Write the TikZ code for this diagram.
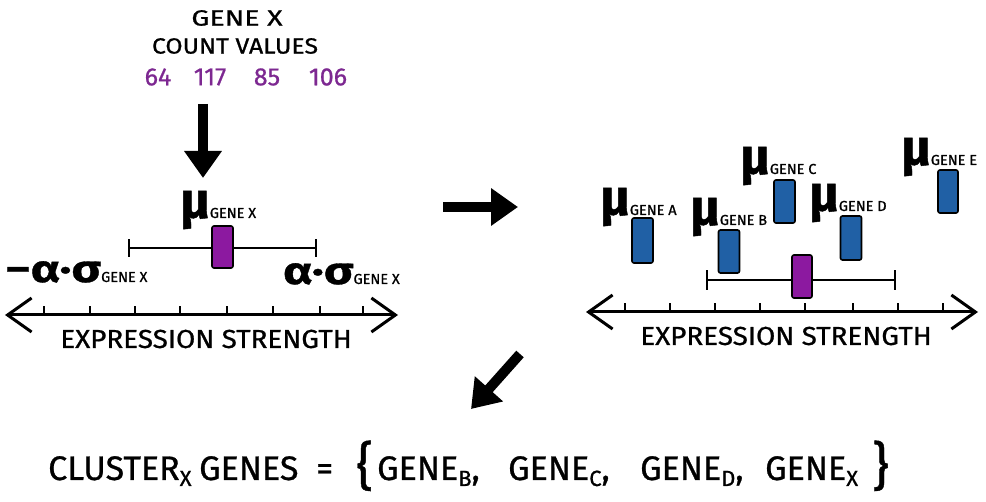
\documentclass[tikz,border=0pt]{standalone}
\usepackage{fontspec}
\setmainfont[FakeBold=0.8]{Fira Sans}
\usetikzlibrary{arrows.meta}
\definecolor{numpurple}{RGB}{125,40,145}
\definecolor{boxpurple}{RGB}{140,25,160}
\definecolor{boxblue}{RGB}{32,96,165}
\newcommand{\mubig}{{\fontsize{51}{51}\selectfont\bfseries μ}}
\newcommand{\gsub}[1]{{\fontsize{14.5}{14.5}\selectfont #1}}
\newcommand{\wide}[2]{\scalebox{#1}[1]{#2}}
\newcommand{\eqsub}[1]{{\fontsize{22}{22}\selectfont\raisebox{-6pt}{#1}}}
\tikzset{
  lbl/.style={inner sep=0pt, font=\fontsize{22}{22}\selectfont},
  numlbl/.style={inner sep=0pt, text=numpurple, font=\fontsize{25}{25}\selectfont},
  axislbl/.style={inner sep=0pt, font=\fontsize{26}{26}\selectfont},
  mulbl/.style={inner sep=0pt, anchor=base west},
  eqtxt/.style={inner sep=0pt, anchor=base west, font=\fontsize{34}{34}\selectfont},
  axisline/.style={line width=3pt, {Straight Barb[length=24pt,width=34pt,line width=3pt]}-{Straight Barb[length=24pt,width=34pt,line width=3pt]}},
  tick/.style={line width=2.2pt},
  whisker/.style={line width=2pt},
  meanbox/.style={draw=black, line width=1.6pt, rounded corners=2pt, inner sep=0pt},
  bigarrow/.style={line width=10pt, -{Triangle[length=27pt,width=36pt]}},
}
\begin{document}
\begin{tikzpicture}[x=1pt,y=-1pt]
\useasboundingbox (0,0) rectangle (986,502);
% ---------- top text
\node[lbl] (genex) at (237,18) {\wide{1.3}{GENE X}};
\node[lbl] (countvals) at (235,46) {\wide{1.13}{COUNT VALUES}};
\node[numlbl] (n64) at (158,77) {64};
\node[numlbl] (n117) at (210,77) {117};
\node[numlbl] (n85) at (267,77) {85};
\node[numlbl] (n106) at (328,77) {106};
\coordinate (dtop) at (203,104);
\coordinate (dtip) at (203,178);
\draw[bigarrow] (dtop) -- (dtip);
% ---------- left panel
\node[mulbl] (mux) at (180,218) {\mubig\gsub{GENE X}};
\coordinate (lw1) at (129,248);
\coordinate (lw2) at (316,248);
\draw[whisker] (lw1) -- (lw2);
\draw[whisker] ([yshift=-9pt]lw1) -- ([yshift=9pt]lw1);
\draw[whisker] ([yshift=-9pt]lw2) -- ([yshift=9pt]lw2);
\node[meanbox, fill=boxpurple, minimum width=21pt, minimum height=42pt] (bx) at (222.5,247) {};
\node[mulbl] (lsig) at (5,282) {\wide{1.3}{\fontsize{38}{38}\selectfont\bfseries −α·σ}\gsub{GENE X}};
\node[mulbl] (rsig) at (283,284) {\wide{1.3}{\fontsize{38}{38}\selectfont\bfseries α·σ}\gsub{GENE X}};
\coordinate (la1) at (5,315);
\coordinate (la2) at (398,315);
\draw[axisline] (la1) -- (la2);
\foreach \t in {44,90,135,180,227,273,320,363}
  \draw[tick] (\t,315) -- (\t,306);
\node[axislbl] (lexpr) at (206,339) {\wide{1.07}{EXPRESSION STRENGTH}};
% ---------- right arrow
\coordinate (ra1) at (443,207);
\coordinate (ra2) at (518,207);
\draw[bigarrow] (ra1) -- (ra2);
% ---------- right panel
\coordinate (rw1) at (707,280);
\coordinate (rw2) at (895,280);
\draw[whisker] (rw1) -- (rw2);
\draw[whisker] ([yshift=-10pt]rw1) -- ([yshift=10pt]rw1);
\draw[whisker] ([yshift=-10pt]rw2) -- ([yshift=10pt]rw2);
\node[meanbox, fill=boxpurple, minimum width=20pt, minimum height=43pt] (bxr) at (802,276.5) {};
\node[meanbox, fill=boxblue, minimum width=21pt, minimum height=45pt] (ba) at (642.5,240.5) {};
\node[meanbox, fill=boxblue, minimum width=21pt, minimum height=43pt] (bb) at (729,251.5) {};
\node[meanbox, fill=boxblue, minimum width=21pt, minimum height=43pt] (bc) at (784.5,201.5) {};
\node[meanbox, fill=boxblue, minimum width=21pt, minimum height=44pt] (bd) at (851,238) {};
\node[meanbox, fill=boxblue, minimum width=20pt, minimum height=43pt] (be) at (948,191.5) {};
\node[mulbl] (mua) at (600,215) {\mubig\gsub{GENE A}};
\node[mulbl] (mub) at (690,225) {\mubig\gsub{GENE B}};
\node[mulbl] (muc) at (740,174) {\mubig\gsub{GENE C}};
\node[mulbl] (mud) at (809,211) {\mubig\gsub{GENE D}};
\node[mulbl] (mue) at (901,165) {\mubig\gsub{GENE E}};
\coordinate (rx1) at (586,312);
\coordinate (rx2) at (978,312);
\draw[axisline] (rx1) -- (rx2);
\foreach \t in {625,670,715,760,805,853,898,943}
  \draw[tick] (\t,312) -- (\t,303);
\node[axislbl] (rexpr) at (786,336) {\wide{1.07}{EXPRESSION STRENGTH}};
% ---------- diagonal arrow
\coordinate (da1) at (520,354);
\coordinate (da2) at (471,409);
\draw[bigarrow] (da1) -- (da2);
% ---------- bottom equation
\node[eqtxt] (eqa) at (48,480) {CLUSTER\eqsub{X}};
\node[eqtxt] (eqb) at (199,480) {GENES};
\node[eqtxt] (eqc) at (316,480) {=};
\node[eqtxt, font=\fontsize{52}{52}\selectfont] (eqd) at (356,484) {\{};
\node[eqtxt] (eqe) at (377,480) {GENE\eqsub{B},};
\node[eqtxt] (eqf) at (508,480) {GENE\eqsub{C},};
\node[eqtxt] (eqg) at (640,480) {GENE\eqsub{D},};
\node[eqtxt] (eqh) at (765,480) {GENE\eqsub{X}};
\node[eqtxt, font=\fontsize{52}{52}\selectfont] (eqi) at (872,484) {\}};
\end{tikzpicture}
\end{document}
